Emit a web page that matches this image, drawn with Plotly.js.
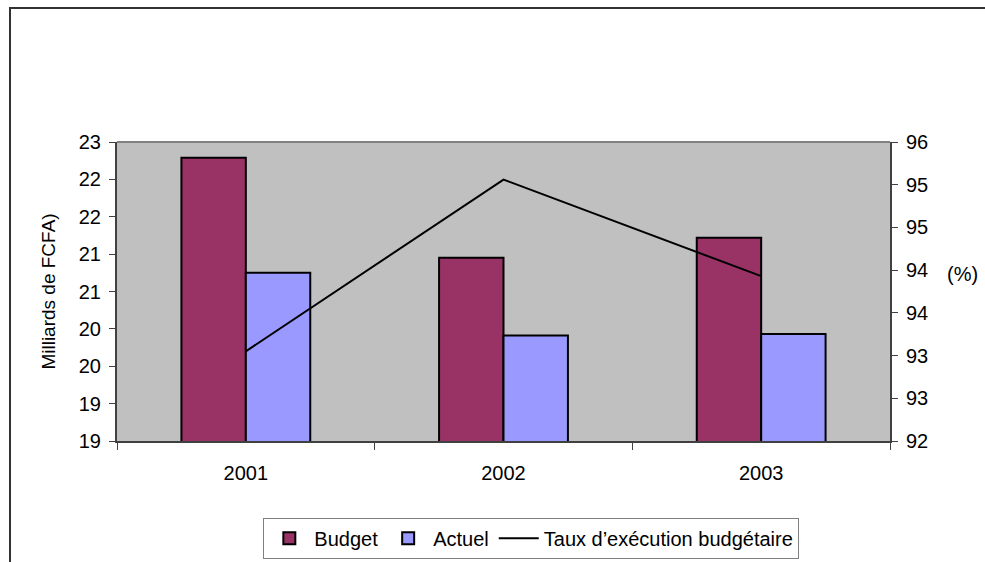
<!DOCTYPE html>
<html>
<head>
<meta charset="utf-8">
<script src="https://cdn.plot.ly/plotly-3.0.1.min.js"></script>
<style>
  html, body { margin: 0; padding: 0; background: #fff; }
  #wrap { position: relative; width: 985px; height: 562px; overflow: hidden; }
  #chart { position: absolute; left: 0; top: 0; width: 985px; height: 562px; }
  #frame { position: absolute; left: 9px; top: 7px; width: 990px; height: 600px;
           border-left: 2px solid #333; border-top: 2px solid #333; pointer-events: none; }
</style>
</head>
<body>
<div id="wrap">
  <div id="chart"></div>
  <div id="frame"></div>
</div>
<script>
// ---- data ----
const years = ["2001", "2002", "2003"];
const budget = [22.29, 20.95, 21.22];
const actuel = [20.75, 19.91, 19.93];
const taux = [93.05, 95.06, 93.93];

// left axis tick values / labels (as shown, rounded)
const leftTickVals = [18.5, 19, 19.5, 20, 20.5, 21, 21.5, 22, 22.5];
const leftTickText = ["19", "19", "20", "20", "21", "21", "22", "22", "23"];
// right axis tick values / labels
const rightTickVals = [92, 92.5, 93, 93.5, 94, 94.5, 95, 95.5];
const rightTickText = ["92", "93", "93", "94", "94", "95", "95", "96"];

const FONT = "Liberation Sans, Arial, sans-serif";

const traces = [
  {
    type: "bar", name: "Budget", x: years, y: budget,
    marker: { color: "#993366", line: { color: "#000", width: 2 } },
    yaxis: "y"
  },
  {
    type: "bar", name: "Actuel", x: years, y: actuel,
    marker: { color: "#9999FF", line: { color: "#000", width: 2 } },
    yaxis: "y"
  },
  {
    type: "scatter", mode: "lines", name: "Taux d\u2019ex\u00e9cution budg\u00e9taire",
    x: years, y: taux, yaxis: "y2",
    line: { color: "#000", width: 2 }
  }
];

const layout = {
  width: 985, height: 562,
  margin: { l: 117, r: 95, t: 142, b: 121, pad: 0, autoexpand: false },
  paper_bgcolor: "#fff",
  plot_bgcolor: "#C0C0C0",
  font: { family: FONT, size: 20, color: "#000" },
  barmode: "group",
  bargap: 0.5,
  bargroupgap: 0,
  showlegend: true,
  legend: {
    orientation: "h",
    x: 0.536, xanchor: "center",
    y: -0.325, yanchor: "middle",
    bordercolor: "#808080", borderwidth: 1,
    bgcolor: "#fff",
    font: { family: FONT, size: 20, color: "#000" },
    traceorder: "normal",
    itemwidth: 40
  },
  xaxis: {
    type: "category",
    automargin: false,
    showgrid: false,
    showline: true, linecolor: "#404040", linewidth: 2,
    ticks: "outside", tickson: "boundaries", ticklen: 7, tickcolor: "#404040", tickwidth: 1,
    ticklabelstandoff: 13,
    tickfont: { family: FONT, size: 20 },
    zeroline: false
  },
  yaxis: {
    range: [18.5, 22.5],
    automargin: false,
    tickmode: "array", tickvals: leftTickVals, ticktext: leftTickText,
    showgrid: false, zeroline: false,
    showline: true, linecolor: "#404040", linewidth: 2,
    ticks: "outside", ticklen: 6, tickcolor: "#404040", tickwidth: 1,
    ticklabelstandoff: 4,
    tickfont: { family: FONT, size: 20 },
    title: { text: "Milliards de FCFA)", font: { family: FONT, size: 19 }, standoff: 18 }
  },
  yaxis2: {
    overlaying: "y", side: "right",
    automargin: false,
    range: [92, 95.5],
    tickmode: "array", tickvals: rightTickVals, ticktext: rightTickText,
    showgrid: false, zeroline: false,
    showline: true, linecolor: "#404040", linewidth: 2,
    ticks: "outside", ticklen: 6, tickcolor: "#404040", tickwidth: 1,
    ticklabelstandoff: 4,
    tickfont: { family: FONT, size: 20 }
  },
  shapes: [
    { type: "line", xref: "paper", yref: "paper", x0: 0, x1: 1, y0: 1, y1: 1,
      line: { color: "#808080", width: 2 } }
  ],
  annotations: [
    { text: "(%)", xref: "paper", yref: "paper", x: 1.071, y: 0.557,
      xanchor: "left", yanchor: "middle", showarrow: false,
      font: { family: FONT, size: 20, color: "#000" } }
  ]
};

Plotly.newPlot("chart", traces, layout, { displayModeBar: false, staticPlot: true });
</script>
</body>
</html>
